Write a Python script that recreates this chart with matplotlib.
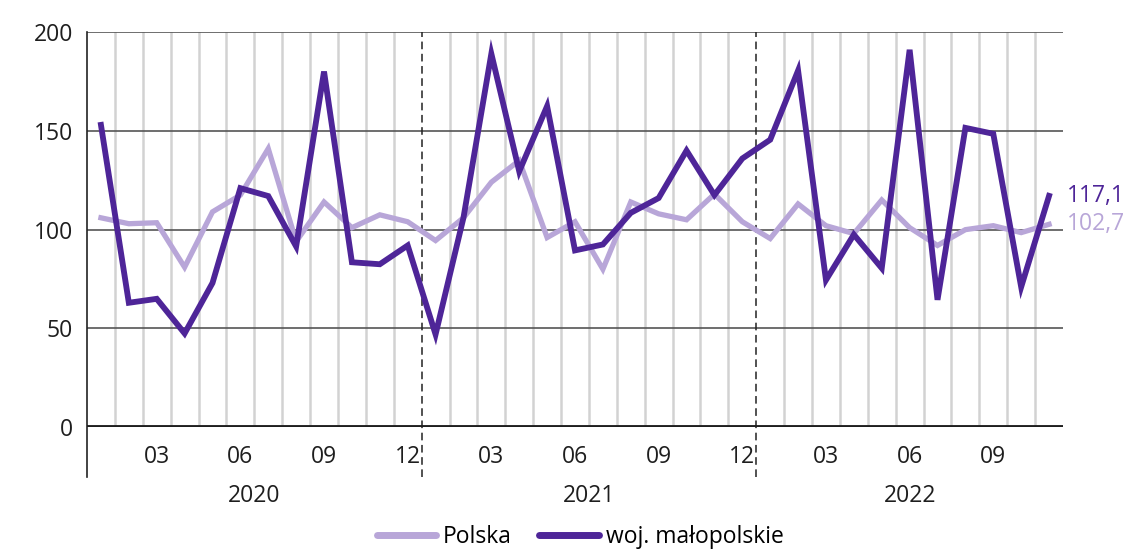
import matplotlib
matplotlib.use("Agg")
import matplotlib.pyplot as plt
import matplotlib.transforms as mtransforms
import numpy as np

plt.rcParams['font.family'] = ['Open Sans', 'DejaVu Sans']

years = ["2020", "2021", "2022"]
month_labels = ["01", "02", "03", "04", "05", "06", "07", "08", "09", "10", "11", "12"]
shown_months = ["03", "06", "09", "12"]

polska = [106, 103, 103.5, 81, 109, 117.5, 141, 94, 114, 101, 107.5, 104,
          94.5, 106, 124, 135, 96, 104, 80, 114, 108, 105, 118, 104,
          95.5, 113, 102, 98, 115, 101, 92, 100, 102, 98.5, 102.7]
malopolskie = [153, 63, 65, 47.5, 73, 121, 117, 91.5, 180, 83.5, 82.5, 92,
               47, 106, 189, 129.5, 162.5, 89.5, 92.5, 108.5, 116, 140, 117.5, 136,
               145.5, 180.5, 74.5, 97.5, 80.5, 191, 64.5, 151.5, 148.5, 71, 117.1]
series_names = ["Polska", "woj. małopolskie"]
end_labels = ["102,7", "117,1"]

c_light = "#b8a6d8"
c_dark = "#4e2598"

n = len(polska)
x = np.arange(n)
periods = [(y, m) for y in years for m in month_labels][:n]

fig = plt.figure(figsize=(11.31, 5.49), dpi=100)
ax = fig.add_axes([87/1131, 1 - 427.3/549, (1063 - 87)/1131, (427.3 - 32)/549])
ax.set_xlim(-0.5, n - 0.5)
ax.set_ylim(0, 200)

# vertical month separators
for i in range(n - 1):
    if periods[i][1] == "12":
        ax.axvline(i + 0.5, ymin=-0.125, ymax=1, color="#222222", lw=1.1,
                   ls=(0, (5, 3)), clip_on=False, zorder=2)
    else:
        ax.axvline(i + 0.5, color="#d2d2d2", lw=1.8, zorder=1)
# left axis line extending below
ax.axvline(-0.5, ymin=-0.125, ymax=1, color="#222222", lw=1.2, clip_on=False, zorder=2)

for yv in [50, 100, 150, 200]:
    ax.axhline(yv, color="#555555", lw=1.2, zorder=1.5)
ax.axhline(0, color="#1e1e1e", lw=3.5, zorder=3)

ax.plot(x, polska, color=c_light, lw=3.8, solid_joinstyle="miter", zorder=4, label=series_names[0])
ax.plot(x, malopolskie, color=c_dark, lw=4.2, solid_joinstyle="miter", zorder=5, label=series_names[1])

for sp in ax.spines.values():
    sp.set_visible(False)

ax.set_yticks([0, 50, 100, 150, 200])
ax.set_yticklabels(["0", "50", "100", "150", "200"], fontsize=16.5, color="#1e1e1e")
ax.tick_params(axis="y", length=0, pad=10)

tick_pos = [i for i, p in enumerate(periods) if p[1] in shown_months]
ax.set_xticks(tick_pos)
ax.set_xticklabels([periods[i][1] for i in tick_pos], fontsize=16.5, color="#1e1e1e")
ax.tick_params(axis="x", length=0, pad=13)

trans = mtransforms.blended_transform_factory(ax.transData, ax.transAxes)
for yr in years:
    idx = [i for i, p in enumerate(periods) if p[0] == yr]
    ax.text(np.mean(idx), -0.174, yr, transform=trans, ha="center", va="center",
            fontsize=16.5, color="#1e1e1e")

ax.text(n - 0.5 + 0.15, malopolskie[-1], end_labels[1], color=c_dark, fontsize=16.5,
        ha="left", va="center", clip_on=False)
ax.text(n - 0.5 + 0.15, polska[-1], end_labels[0], color=c_light, fontsize=16.5,
        ha="left", va="center", clip_on=False)

leg = fig.legend(loc="center", bbox_to_anchor=(0.513, 0.022), ncol=2, frameon=False,
                 fontsize=16.5, handlelength=2.6, handletextpad=0.3, columnspacing=1.2)
for h in leg.get_lines():
    h.set_linewidth(5)
    h.set_solid_capstyle("round")

fig.savefig("out.png", dpi=100)
